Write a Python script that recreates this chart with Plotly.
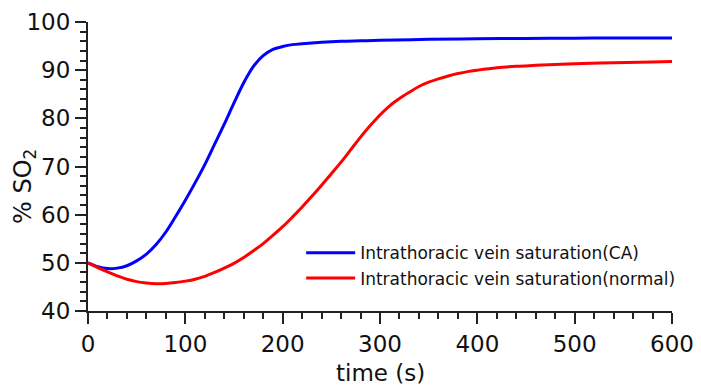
import plotly.graph_objects as go

# time (s)
t_ca = [0, 10, 20, 30, 40, 50, 60, 70, 80, 90, 100, 110, 120, 130, 140, 150,
        160, 170, 180, 190, 200, 210, 220, 240, 260, 280, 300, 350, 400, 450,
        500, 550, 600]
so2_ca = [50.0, 49.2, 48.8, 48.9, 49.4, 50.4, 51.8, 53.8, 56.4, 59.6, 63.0,
          66.6, 70.4, 74.6, 78.8, 83.2, 87.4, 90.8, 93.0, 94.3, 94.9, 95.3,
          95.5, 95.8, 96.0, 96.1, 96.2, 96.4, 96.5, 96.6, 96.65, 96.7, 96.7]

t_normal = [0, 10, 20, 30, 40, 50, 60, 70, 80, 90, 100, 110, 120, 130, 140,
            150, 160, 170, 180, 190, 200, 210, 220, 230, 240, 250, 260, 270,
            280, 290, 300, 310, 320, 330, 340, 350, 360, 370, 380, 390, 400,
            420, 440, 460, 480, 500, 540, 580, 600]
so2_normal = [50.0, 49.0, 48.1, 47.3, 46.6, 46.1, 45.8, 45.65, 45.7, 45.9,
              46.2, 46.6, 47.2, 48.0, 48.9, 49.9, 51.1, 52.5, 54.0, 55.7, 57.5,
              59.5, 61.6, 63.8, 66.1, 68.5, 70.9, 73.5, 76.1, 78.5, 80.7, 82.6,
              84.1, 85.4, 86.6, 87.5, 88.2, 88.8, 89.3, 89.7, 90.0, 90.5, 90.8,
              91.0, 91.2, 91.35, 91.55, 91.7, 91.8]

FONT = "DejaVu Sans"

fig = go.Figure()
fig.add_trace(go.Scatter(x=t_ca, y=so2_ca, mode="lines", line_shape="spline",
                         line=dict(color="#0000ff", width=3),
                         name="Intrathoracic vein saturation(CA)"))
fig.add_trace(go.Scatter(x=t_normal, y=so2_normal, mode="lines", line_shape="spline",
                         line=dict(color="#ff0000", width=3),
                         name="Intrathoracic vein saturation(normal)"))

axis_common = dict(showgrid=False, zeroline=False, showline=True, linecolor="#222",
                   linewidth=2, ticks="outside", ticklen=11, tickwidth=2, tickcolor="#222",
                   automargin=False,
                   tickfont=dict(family=FONT, size=23, color="#111"))

fig.update_xaxes(range=[0, 600], dtick=100,
                 minor=dict(dtick=20, ticks="outside", ticklen=6, tickwidth=1.5, tickcolor="#222"),
                 **axis_common)
fig.update_yaxes(range=[40, 100], dtick=10,
                 minor=dict(dtick=2, ticks="outside", ticklen=6, tickwidth=1.5, tickcolor="#222"),
                 **axis_common)

# axis titles as annotations so they sit where the reference has them
fig.add_annotation(text="time (s)", xref="paper", yref="paper", x=0.5, y=0,
                   yshift=-62, xanchor="center", yanchor="middle",
                   showarrow=False, font=dict(family=FONT, size=23, color="#111"))
fig.add_annotation(text="% SO<sub>2</sub>", xref="paper", yref="paper", x=0, y=0.429,
                   xshift=-64, xanchor="center", yanchor="middle", textangle=-90,
                   showarrow=False, font=dict(family=FONT, size=24, color="#111"))

# page body has an 8px margin, so the figure is shrunk to fit the window
fig.update_layout(
    width=693, height=378,
    margin=dict(l=80, r=29, t=14, b=75),
    plot_bgcolor="white", paper_bgcolor="white",
    font=dict(family=FONT),
    legend=dict(x=0.365, y=0.262, xanchor="left", yanchor="top",
                bgcolor="rgba(0,0,0,0)", font=dict(family=FONT, size=17, color="#111"),
                tracegroupgap=0, itemwidth=49),
)

fig.write_html("out.html")
